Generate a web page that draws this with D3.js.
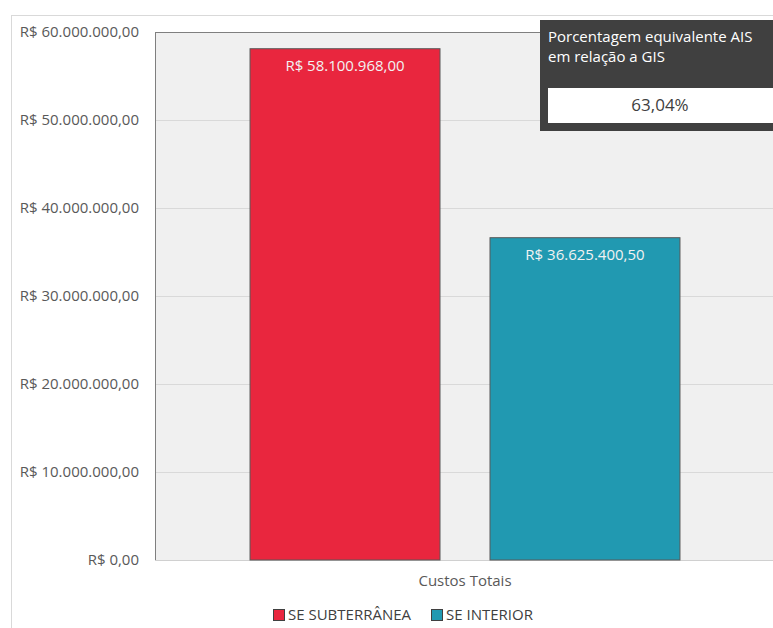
<!DOCTYPE html>
<html>
<head>
<meta charset="utf-8">
<script src="https://cdn.jsdelivr.net/npm/d3@7"></script>
<style>
  body { margin: 0; background: #fff; }
  text { font-family: "Open Sans", "Noto Sans", sans-serif; }
</style>
</head>
<body>
<script>
// chart data
var categories = ["Custos Totais"];
var seriesNames = ["SE SUBTERRÂNEA", "SE INTERIOR"];
var seriesValues = [58100968.00, 36625400.50];
var seriesColors = ["#e9263e", "#2199b1"];
var yTicks = [0, 10000000, 20000000, 30000000, 40000000, 50000000, 60000000];
var boxTitle = ["Porcentagem equivalente AIS", "em relação a GIS"];
var boxValue = "63,04%";

var W = 773, H = 628;
var pad = { left: 155, right: 775, top: 32, bottom: 560 };

// brazilian money format
var brl = d3.formatLocale({
  decimal: ",", thousands: ".", grouping: [3], currency: ["R$ ", ""]
}).format("$,.2f");

var svg = d3.select("body").append("svg")
  .attr("width", W).attr("height", H);

// outer chart frame
svg.append("rect")
  .attr("x", 11.5).attr("y", 15.5)
  .attr("width", W + 10).attr("height", H + 10)
  .attr("fill", "#fff").attr("stroke", "#d9d9d9");

var yScale = d3.scaleLinear().domain([0, 60000000]).range([pad.bottom, pad.top]);
var xOuter = d3.scaleBand().domain(categories).range([pad.left, pad.right]);
var xInner = d3.scaleBand().domain(seriesNames)
  .range([0, xOuter.bandwidth()]).paddingInner(0.2083).paddingOuter(0.396);

// plot area background
svg.append("rect")
  .attr("x", pad.left).attr("y", pad.top)
  .attr("width", pad.right - pad.left).attr("height", pad.bottom - pad.top)
  .attr("fill", "#f0f0f0");

// gridlines
svg.append("g").selectAll("line")
  .data(yTicks.slice(1, -1))
  .enter().append("line")
    .attr("x1", pad.left).attr("x2", pad.right)
    .attr("y1", function(d) { return Math.round(yScale(d)) + 0.5; })
    .attr("y2", function(d) { return Math.round(yScale(d)) + 0.5; })
    .attr("stroke", "#d9d9d9");

// bottom line, top and left border
svg.append("line")
  .attr("x1", pad.left).attr("x2", pad.right)
  .attr("y1", pad.bottom + 0.5).attr("y2", pad.bottom + 0.5)
  .attr("stroke", "#d0d0d0");
svg.append("line")
  .attr("x1", pad.left).attr("x2", pad.right)
  .attr("y1", pad.top + 0.5).attr("y2", pad.top + 0.5)
  .attr("stroke", "#7f7f7f");
svg.append("line")
  .attr("x1", pad.left + 0.5).attr("x2", pad.left + 0.5)
  .attr("y1", pad.top).attr("y2", pad.bottom)
  .attr("stroke", "#7f7f7f");

// y axis labels
var yAxis = d3.axisLeft(yScale).tickValues(yTicks).tickFormat(brl).tickSize(0).tickPadding(16);
var gy = svg.append("g").attr("transform", "translate(" + pad.left + ",0)").call(yAxis);
gy.select(".domain").remove();
gy.selectAll("text")
  .attr("fill", "#595959").attr("font-size", 15)
  .attr("font-family", "'Open Sans', sans-serif");

// bars
var bars = svg.append("g")
  .attr("transform", "translate(" + xOuter(categories[0]) + ",0)");
bars.selectAll("rect")
  .data(seriesValues)
  .enter().append("rect")
    .attr("x", function(d, i) { return xInner(seriesNames[i]); })
    .attr("y", function(d) { return yScale(d); })
    .attr("width", xInner.bandwidth())
    .attr("height", function(d) { return pad.bottom - yScale(d); })
    .attr("fill", function(d, i) { return seriesColors[i]; })
    .attr("stroke", "#595959").attr("stroke-width", 1);

bars.selectAll("text.lbl")
  .data(seriesValues)
  .enter().append("text")
    .attr("class", "lbl")
    .attr("x", function(d, i) { return xInner(seriesNames[i]) + xInner.bandwidth() / 2; })
    .attr("y", function(d) { return yScale(d) + 22; })
    .attr("text-anchor", "middle")
    .attr("fill", "#f2f2f2").attr("font-size", 15)
    .text(function(d) { return brl(d); });

// category label
svg.append("text")
  .attr("x", xOuter(categories[0]) + xOuter.bandwidth() / 2)
  .attr("y", 586)
  .attr("text-anchor", "middle")
  .attr("fill", "#595959").attr("font-size", 15)
  .text(categories[0]);

// legend
var legX = [273, 431];
var leg = svg.append("g").selectAll("g")
  .data(seriesNames)
  .enter().append("g")
    .attr("transform", function(d, i) { return "translate(" + legX[i] + ",609)"; });
leg.append("rect")
  .attr("x", 0.5).attr("y", 0.5).attr("width", 11).attr("height", 11)
  .attr("fill", function(d, i) { return seriesColors[i]; })
  .attr("stroke", "#404040");
leg.append("text")
  .attr("x", 15).attr("y", 11)
  .attr("fill", "#404040").attr("font-size", 15)
  .text(function(d) { return d; });

// info box
svg.append("rect")
  .attr("x", 540).attr("y", 20).attr("width", 240).attr("height", 111)
  .attr("fill", "#404040");
svg.append("g").selectAll("text")
  .data(boxTitle)
  .enter().append("text")
    .attr("x", 548)
    .attr("y", function(d, i) { return 42 + i * 20; })
    .attr("fill", "#ffffff").attr("font-size", 15)
    .text(function(d) { return d; });
svg.append("rect")
  .attr("x", 548).attr("y", 88).attr("width", 230).attr("height", 35)
  .attr("fill", "#ffffff");
svg.append("text")
  .attr("x", 660).attr("y", 111)
  .attr("text-anchor", "middle")
  .attr("fill", "#404040").attr("font-size", 17)
  .text(boxValue);
</script>
</body>
</html>
